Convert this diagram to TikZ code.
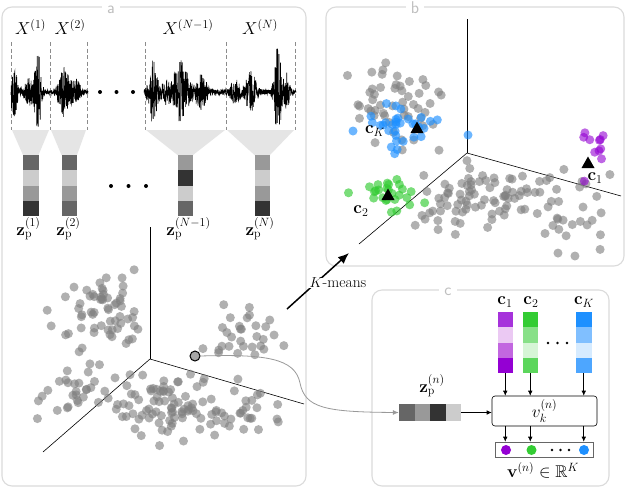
\documentclass[tikz,border=0pt]{standalone}
\usepackage{amsmath,amssymb}
\usetikzlibrary{arrows.meta}
\DeclareMathSizes{16}{16}{12.5}{10}
\DeclareMathSizes{17}{17}{13}{10.5}
\definecolor{pu}{HTML}{9400D3}
\definecolor{pua}{HTML}{A632DB}
\definecolor{pub}{HTML}{EBC9F3}
\definecolor{puc}{HTML}{C266E0}
\definecolor{gr}{HTML}{33CC33}
\definecolor{grb}{HTML}{88E088}
\definecolor{grc}{HTML}{D6F5D6}
\definecolor{grd}{HTML}{5CD65C}
\definecolor{bl}{HTML}{1E90FF}
\definecolor{blb}{HTML}{80BFFF}
\definecolor{blc}{HTML}{D6EBFF}
\definecolor{bld}{HTML}{4DA6FF}
\definecolor{ga}{HTML}{666666}
\definecolor{gb}{HTML}{CCCCCC}
\definecolor{gc}{HTML}{999999}
\definecolor{gd}{HTML}{333333}
\newcommand\cloud[6]{%
  \foreach \i in {1,...,#1}{%
    \pgfmathsetmacro\px{max(\cxmin,min(\cxmax,#2+#4*(rand+rand+rand)))}%
    \pgfmathsetmacro\py{max(\cymin,min(\cymax,#3+#5*(rand+rand+rand)))}%
    \fill[#6] (\px,\py) circle (4.5pt);
  }}
\newcommand\vcells[6]{% x left, y top, colours
  \fill[#3] (#1,#2) rectangle ++(15.5,15.25);
  \fill[#4] (#1,#2+15.25) rectangle ++(15.5,15.25);
  \fill[#5] (#1,#2+30.5) rectangle ++(15.5,15.25);
  \fill[#6] (#1,#2+45.75) rectangle ++(15.5,15.25);}
\newcommand\tri[2]{\fill[black] (#1,#2-6.5) -- (#1-6.5,#2+5) -- (#1+6.5,#2+5) -- cycle;}
\begin{document}
\begin{tikzpicture}[x=1pt,y=-1pt,
  every node/.style={font=\fontsize{16}{18}\selectfont},
  big/.style={font=\fontsize{17}{19}\selectfont},
  panel/.style={draw=black!14, line width=1.1pt, rounded corners=10pt},
  plabel/.style={font=\sffamily\fontsize{17}{17}\selectfont, text=black!25, fill=white, inner xsep=5pt, inner ysep=0.5pt, anchor=base},
  dashv/.style={draw=black!45, line width=0.9pt, dash pattern=on 4pt off 2.5pt},
  funnel/.style={fill=black!10},
  axisline/.style={draw=black, line width=0.6pt},
  gdot/.style={fill=black!50, fill opacity=0.62},
  bdot/.style={fill=bl, fill opacity=0.65},
  grdot/.style={fill=gr, fill opacity=0.65},
  pdot/.style={fill=pu, fill opacity=0.6},
  wave/.style={draw=black, line width=0.6pt},
  arr/.style={-{Latex[length=5pt,width=4.5pt]}, line width=0.6pt},
  barnode/.style={inner sep=0pt, minimum width=15.5pt, minimum height=61pt}
]
\useasboundingbox (0,0) rectangle (626,488);
\fill[white] (0,0) rectangle (626,488);
% ---------------- panels
\draw[panel] (2,7) rectangle (306,486);
\draw[panel] (326,7) rectangle (624,266);
\draw[panel] (372,290) rectangle (609,486);
\node[plabel] (la) at (111,13) {a};
\node[plabel] (lb) at (415,13) {b};
\node[plabel] (lc) at (448,295.5) {c};
% ---------------- panel a : waveforms
\foreach \x in {11,50,87,145,226,295} \draw[dashv] (\x,42) -- (\x,130);
\fill[funnel] (12,130) -- (49,130) -- (38.5,155) -- (23,155) -- cycle;
\fill[funnel] (51,130) -- (86,130) -- (77,155) -- (61.5,155) -- cycle;
\fill[funnel] (146,130) -- (225,130) -- (193,155) -- (177.5,155) -- cycle;
\fill[funnel] (227,130) -- (294,130) -- (270,155) -- (254.5,155) -- cycle;
\pgfmathsetseed{7}
\draw[wave] plot[domain=11:50, samples=240] (\x,{92+(2+24*exp(-((\x-14)/3.5)^2)+38*exp(-((\x-38)/3.5)^2)+12*exp(-((\x-29)/5)^2))*rand});
\draw[wave] plot[domain=50:88, samples=220] (\x,{92+(1.5+24*exp(-((\x-64)/6)^2)+12*exp(-((\x-76)/5)^2))*rand});
\draw[wave] plot[domain=144:226, samples=460] (\x,{92+(2.5+30*exp(-((\x-153)/4.5)^2)+30*exp(-((\x-181)/8)^2)+17*exp(-((\x-201)/6)^2)+10*exp(-((\x-166)/6)^2))*rand});
\draw[wave] plot[domain=226:296, samples=400] (\x,{92+(2+12*exp(-((\x-235)/5)^2)+20*exp(-((\x-251)/6)^2)+46*exp(-((\x-278)/4)^2)+18*exp(-((\x-287)/3)^2))*rand});
\foreach \x in {100,116.5,133} \fill (\x,92) circle (2pt);
\node[big] (X1) at (30.5,27) {$X^{(1)}$};
\node[big] (X2) at (70,27) {$X^{(2)}$};
\node[big] (XN1) at (188,27) {$X^{(N-1)}$};
\node[big] (XN) at (260,27) {$X^{(N)}$};
% bars
\vcells{23}{155}{ga}{gb}{gc}{gd}
\vcells{61.5}{155}{ga}{gb}{gc}{ga}
\vcells{177.5}{155}{gc}{gd}{gb}{ga}
\vcells{254.5}{155}{gc}{gb}{gc}{gd}
\foreach \x in {111,128.5,146} \fill (\x,186) circle (2pt);
\node[big] (z1) at (28.5,229) {$\mathbf{z}_{\mathrm{p}}^{(1)}$};
\node[big] (z2) at (68.5,229) {$\mathbf{z}_{\mathrm{p}}^{(2)}$};
\node[big] (zN1) at (188.5,229) {$\mathbf{z}_{\mathrm{p}}^{(N-1)}$};
\node[big] (zN) at (260,229) {$\mathbf{z}_{\mathrm{p}}^{(N)}$};
% ---------------- panel a : scatter
\coordinate (oa) at (150,359);
\draw[axisline] (oa) -- (150,227);
\draw[axisline] (oa) -- (43,452);
\draw[axisline] (oa) -- (304,404);
\def\cxmin{16}\def\cxmax{296}\def\cymin{260}\def\cymax{474}
\pgfmathsetseed{11}
\cloud{60}{98}{312}{20}{18}{gdot}
\cloud{30}{78}{392}{18}{16}{gdot}
\cloud{85}{168}{408}{30}{16}{gdot}
\cloud{30}{240}{336}{19}{15}{gdot}
\cloud{22}{246}{420}{20}{14}{gdot}
\node[circle, draw=black, line width=1pt, fill=black!35, inner sep=0pt, minimum size=10pt] (hp) at (195,356) {};
% ---------------- panel b : scatter
\coordinate (ob) at (467,153);
\draw[axisline] (ob) -- (467,19);
\draw[axisline] (ob) -- (359,244);
\draw[axisline] (ob) -- (621,196);
\def\cxmin{336}\def\cxmax{616}\def\cymin{40}\def\cymax{256}
\pgfmathsetseed{23}
\cloud{50}{400}{102}{21}{20}{gdot}
\cloud{80}{478}{195}{32}{17}{gdot}
\cloud{28}{572}{205}{22}{20}{gdot}
\cloud{32}{402}{128}{16}{13}{bdot}
\fill[bdot] (353,131) circle (4.5pt);
\fill[bdot] (468,135) circle (4.5pt);
\cloud{26}{385}{193}{15}{11}{grdot}
\cloud{11}{590}{152}{11}{14}{pdot}
\tri{417}{128}
\tri{388}{195}
\tri{588}{163}
\node (cKl) at (375,131) {$\mathbf{c}_K$};
\node (c2l) at (361,211) {$\mathbf{c}_2$};
\node (c1l) at (595,178) {$\mathbf{c}_1$};
% ---------------- K-means arrow
\coordinate (ks) at (287,309);
\coordinate (ke) at (349,253);
\draw[line width=1.5pt, -{Latex[length=11pt,width=9pt]}] (ks) -- (ke);
\node[fill=white, inner sep=0.5pt, anchor=west, font=\fontsize{15.5}{17}\selectfont] (km) at (309,283) {$K$-means};
% ---------------- panel c
\vcells{497.5}{312}{pua}{pub}{puc}{pu}
\vcells{522.5}{312}{gr}{grb}{grc}{grd}
\vcells{576}{312}{bl}{blb}{blc}{bld}
\node[barnode] (b1) at (505.25,342.5) {};
\node[barnode] (b2) at (530.25,342.5) {};
\node[barnode] (bK) at (583.75,342.5) {};
\node (c1t) at (505,302) {$\mathbf{c}_1$};
\node (c2t) at (531,302) {$\mathbf{c}_2$};
\node (cKt) at (584,302) {$\mathbf{c}_K$};
\foreach \x in {548,557.5,567} \fill (\x,343) circle (1.4pt);
\node[draw, line width=0.6pt, rounded corners=3pt, minimum width=105pt, minimum height=30pt, inner sep=0pt] (vb) at (544.5,411) {$v_k^{(n)}$};
\node[draw=black!60, line width=0.6pt, minimum width=98pt, minimum height=15pt, inner sep=0pt] (vv) at (544,449.5) {};
\fill[pu] (506,450) circle (5pt);
\fill[gr] (531.5,450) circle (5pt);
\fill[bl] (584,450) circle (5pt);
\foreach \x in {552,560.5,569} \fill (\x,450) circle (1.3pt);
\node[big] (vlab) at (543,470) {$\mathbf{v}^{(n)}\in\mathbb{R}^K$};
\foreach \b in {b1,b2,bK} {
  \draw[arr] (\b.south) -- (\b.south |- vb.north);
  \draw[arr] (\b.south |- vb.south) -- (\b.south |- vv.north);
}
% z bar
\fill[ga] (399,404) rectangle ++(15.5,17);
\fill[gc] (414.5,404) rectangle ++(15.5,17);
\fill[gd] (430,404) rectangle ++(15.5,17);
\fill[gb] (445.5,404) rectangle ++(15.5,17);
\node[inner sep=0pt, minimum width=62pt, minimum height=17pt] (zb) at (430,412.5) {};
\node[big] (zl) at (432,386) {$\mathbf{z}_{\mathrm{p}}^{(n)}$};
\draw[arr] (zb.east) -- (zb.east -| vb.west);
% curve from highlighted point
\draw[draw=black!40, line width=0.8pt, -{Latex[length=6pt,width=5pt]}] (hp.east) .. controls (265,354) and (295,358) .. (300,383) .. controls (305,408) and (325,412) .. (zb.west);
\end{tikzpicture}
\end{document}
